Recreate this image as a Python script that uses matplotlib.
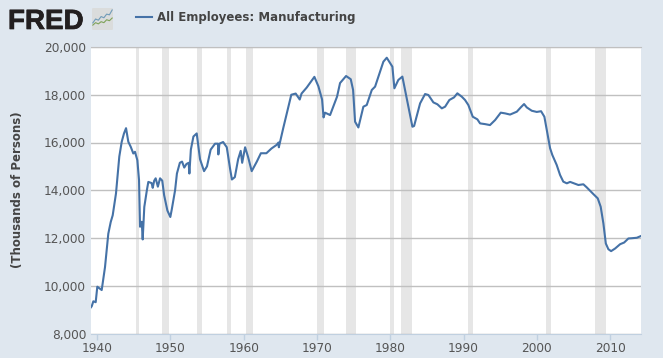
import matplotlib
matplotlib.use("Agg")
import matplotlib.pyplot as plt
import matplotlib.patheffects as pe
from matplotlib.patches import FancyBboxPatch

# All Employees: Manufacturing
years = [1939.18, 1939.28, 1939.5, 1939.82, 1940.04, 1940.64, 1941.09, 1941.54, 1941.87, 1942.14, 1942.59, 1942.77,
         1943.04, 1943.37, 1943.68, 1943.96, 1944.27, 1944.6, 1944.95, 1945.18, 1945.5, 1945.73, 1945.87,
         1946.1, 1946.23, 1946.45, 1946.8, 1947, 1947.45, 1947.6, 1947.8, 1948, 1948.3, 1948.6, 1948.9,
         1949.15, 1949.6, 1950, 1950.2, 1950.65, 1950.9, 1951.3, 1951.6, 1951.9, 1952.2, 1952.5, 1952.6,
         1952.8, 1953.15, 1953.6, 1954.05, 1954.6, 1955, 1955.5, 1956.1, 1956.5, 1956.55, 1956.7, 1957.2,
         1957.7, 1958.15, 1958.4, 1958.8, 1959.25, 1959.6, 1959.8, 1960.2, 1960.6, 1961.1, 1961.8, 1962.35,
         1963.1, 1963.8, 1964.5, 1964.75, 1964.8, 1965.4, 1966.1, 1966.5, 1967.1, 1967.65, 1967.9, 1968.6,
         1969.3, 1969.65, 1970.2, 1970.7, 1970.9, 1971.1, 1971.79, 1972.74, 1973.15, 1973.97, 1974.61,
         1974.93, 1975.2, 1975.65, 1976.33, 1976.79, 1977.48, 1977.93, 1978.61, 1979.06, 1979.52, 1980.29,
         1980.56, 1981.1, 1981.65, 1982.15, 1983.02, 1983.25, 1984.07, 1984.75, 1985.2, 1985.88, 1986.43,
         1987.03, 1987.48, 1988.06, 1988.7, 1989.15, 1989.75, 1990.2, 1990.65, 1991.25, 1991.88, 1992.25,
         1992.93, 1993.6, 1994.3, 1995.07, 1995.66, 1996.34, 1997.26, 1997.8, 1998.25, 1998.62, 1999.3,
         1999.98, 2000.57, 2001.02, 2001.35, 2001.8, 2002.1, 2002.7, 2003.16, 2003.6, 2004.08, 2004.53,
         2005.66, 2006.34, 2006.8, 2007.7, 2008.3, 2008.7, 2009.07, 2009.4, 2009.75, 2010.12, 2010.67,
         2011.35, 2011.9, 2012.48, 2012.94, 2013.63, 2014.17]
employees = [9100, 9140, 9350, 9310, 9960, 9820, 10780, 12180, 12670, 12950, 13870, 14500,
             15410, 16030, 16380, 16600, 16030, 15820, 15540, 15610, 15260, 14430, 12470,
             12680, 11940, 13300, 14000, 14350, 14300, 14100, 14400, 14500, 14150, 14500, 14400,
             13800, 13150, 12880, 13200, 14000, 14700, 15150, 15200, 14950, 15100, 15150, 14700,
             15700, 16250, 16380, 15300, 14800, 15000, 15700, 15950, 15950, 15500, 15950, 16020,
             15800, 14900, 14450, 14550, 15300, 15650, 15150, 15800, 15400, 14800, 15200, 15550,
             15550, 15750, 15900, 16000, 15800, 16600, 17500, 18000, 18050, 17800, 18050, 18300,
             18600, 18750, 18350, 17800, 17050, 17250, 17150, 17920, 18490, 18785, 18650,
             18200, 16870, 16630, 17500, 17570, 18200, 18340, 18970, 19385, 19550, 19175,
             18270, 18620, 18760, 17990, 16660, 16690, 17640, 18030, 17990, 17680, 17600,
             17430, 17500, 17780, 17890, 18060, 17920, 17780, 17570, 17080, 16970, 16800,
             16770, 16730, 16940, 17250, 17220, 17170, 17290, 17470, 17610, 17470, 17330,
             17280, 17310, 17080, 16520, 15760, 15480, 15060, 14640, 14360, 14290, 14350,
             14220, 14250, 14120, 13840, 13660, 13310, 12610, 11770, 11530, 11450, 11560,
             11740, 11810, 11980, 11990, 12010, 12080]

# recession start / end
rec_start = [1945.28, 1948.9, 1953.6, 1957.7, 1960.28, 1969.97, 1973.93, 1980.01, 1981.52, 1990.57, 2001.2, 2007.9]
rec_end = [1945.77, 1949.86, 1954.37, 1958.32, 1961.24, 1970.93, 1975.3, 1980.56, 1982.93, 1991.25, 2001.9, 2009.4]

y_ticks = [8000, 10000, 12000, 14000, 16000, 18000, 20000]
x_ticks = [1940, 1950, 1960, 1970, 1980, 1990, 2000, 2010]

# little logo lines
logo_x = [0, 1, 2, 3, 4, 5, 6, 7]
logo_blue = [2.9, 4.5, 4, 5.5, 5, 6.5, 6.2, 8.2]
logo_green = [2, 3, 2.5, 3.4, 3, 4.2, 3.8, 4.9]

bg = "#dfe7ef"
line_col = "#4572a7"
W, H = 663, 358

fig = plt.figure(figsize=(W / 100, H / 100), dpi=100, facecolor=bg)
ax = fig.add_axes([91 / W, 1 - 333.5 / H, 550 / W, 286.5 / H])

for a, b in zip(rec_start, rec_end):
    ax.axvspan(a, b, color="#e6e6e6", lw=0, zorder=1)
ax.plot(years, employees, color=line_col, lw=1.5, zorder=3, solid_joinstyle="round")

ax.set_xlim(1939.18, 2014.2)
ax.set_ylim(8000, 20000)
ax.set_yticks(y_ticks)
ax.set_yticklabels([f"{v:,}" for v in y_ticks])
ax.set_xticks(x_ticks)
ax.grid(axis="y", color="#c0c0c0", lw=1, zorder=2)
ax.set_axisbelow(False)
ax.tick_params(axis="y", length=0, pad=3.6, labelsize=8.7, labelcolor="#555555")
ax.tick_params(axis="x", length=4, width=1, color="#c0d0e0", pad=2, labelsize=8.7, labelcolor="#555555")
for s in ["left", "right"]:
    ax.spines[s].set_visible(False)
ax.spines["top"].set_color("#c0c0c0")
ax.spines["bottom"].set_color("#c0d0e0")

fig.text(18 / W, 1 - 190 / H, "(Thousands of Persons)", rotation=90, ha="center", va="center",
         fontsize=8.5, fontweight="bold", color="#444444")

# legend
fig.add_artist(plt.Line2D([136 / W, 152 / W], [1 - 17 / H, 1 - 17 / H], color=line_col, lw=1.5))
fig.text(157 / W, 1 - 17 / H, "All Employees: Manufacturing", ha="left", va="center",
         fontsize=8.5, fontweight="bold", color="#444444")

# FRED logo
fig.text(8 / W, 1 - 29 / H, "FRED", ha="left", va="baseline", family="Liberation Sans", fontweight="bold",
         fontsize=20, color="#231f20", path_effects=[pe.withStroke(linewidth=0.5, foreground="#231f20")])
logo = fig.add_axes([92 / W, 1 - 30 / H, 21 / W, 22 / H])
logo.set_xlim(-0.3, 7.3)
logo.set_ylim(0, 9)
logo.axis("off")
logo.add_patch(FancyBboxPatch((-0.3, 0), 7.6, 9, boxstyle="round,pad=0,rounding_size=0.5", fc="#dadcdc", ec="none"))
logo.plot(logo_x, logo_blue, color="#6f9bb8", lw=0.8)
logo.plot(logo_x, logo_green, color="#7fa35a", lw=0.8)

fig.savefig("out.png", dpi=100, facecolor=bg)
